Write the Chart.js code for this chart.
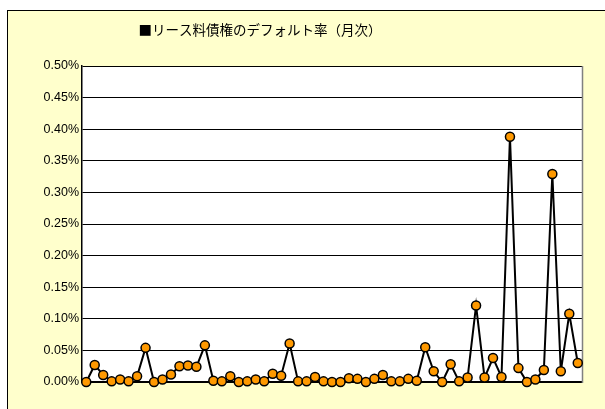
<!DOCTYPE html>
<html>
<head>
<meta charset="utf-8">
<script src="https://cdn.jsdelivr.net/npm/chart.js@4"></script>
<style>
  html, body { margin: 0; padding: 0; background: #fff; }
  #frame {
    position: absolute; left: 7px; top: 10px;
    width: 598px; height: 399px;
    border-left: 1px solid #000; border-top: 1px solid #000;
    background: #FFFFCC;
  }
  canvas { display: block; }
</style>
</head>
<body>
<div id="frame"><canvas id="chart" width="598" height="399"></canvas></div>
<script>
const chartTitle = "■リース料債権のデフォルト率（月次）";

const months = [
  "1", "2", "3", "4", "5", "6", "7", "8", "9", "10",
  "11", "12", "13", "14", "15", "16", "17", "18", "19", "20",
  "21", "22", "23", "24", "25", "26", "27", "28", "29", "30",
  "31", "32", "33", "34", "35", "36", "37", "38", "39", "40",
  "41", "42", "43", "44", "45", "46", "47", "48", "49", "50",
  "51", "52", "53", "54", "55", "56", "57", "58", "59"
];

// default rate, percent
const defaultRate = [
  0.000, 0.027, 0.011, 0.001, 0.004, 0.001, 0.009, 0.054, 0.000, 0.004,
  0.012, 0.025, 0.026, 0.024, 0.058, 0.002, 0.001, 0.009, 0.000, 0.001,
  0.004, 0.001, 0.013, 0.010, 0.061, 0.001, 0.001, 0.008, 0.001, 0.000,
  0.000, 0.006, 0.005, 0.000, 0.005, 0.011, 0.001, 0.001, 0.005, 0.002,
  0.055, 0.017, 0.000, 0.028, 0.001, 0.007, 0.121, 0.007, 0.038, 0.008,
  0.388, 0.022, 0.000, 0.004, 0.019, 0.329, 0.017, 0.108, 0.030
];

const yMin = 0;
const yMax = 0.5;
const yStep = 0.05;

const plotArea = {
  id: "plotArea",
  beforeDraw(chart) {
    const { ctx, chartArea: a } = chart;
    ctx.save();
    ctx.fillStyle = "#fff";
    ctx.fillRect(a.left, a.top, a.right - a.left, a.bottom - a.top);
    ctx.restore();
  },
  beforeDatasetsDraw(chart) {
    const { ctx, chartArea: a } = chart;
    ctx.save();
    ctx.strokeStyle = "#808080";
    ctx.lineWidth = 1.5;
    ctx.beginPath();
    ctx.moveTo(a.right + 0.5, a.top);
    ctx.lineTo(a.right + 0.5, a.bottom + 1);
    ctx.stroke();
    ctx.restore();
  },
  afterDraw(chart) {
    const { ctx } = chart;
    ctx.save();
    ctx.fillStyle = "#000";
    ctx.font = "13.5px 'Noto Sans CJK JP'";
    ctx.textAlign = "center";
    ctx.textBaseline = "middle";
    ctx.fillText(chartTitle, 252, 19);
    ctx.restore();
  }
};

new Chart(document.getElementById("chart"), {
  type: "line",
  data: {
    labels: months,
    datasets: [
      {
        data: defaultRate,
        borderColor: "#000",
        borderWidth: 2,
        pointBackgroundColor: "#FF9900",
        pointBorderColor: "#000",
        pointBorderWidth: 1.5,
        pointRadius: 4.5,
        tension: 0,
        clip: false
      }
    ]
  },
  options: {
    responsive: false,
    animation: false,
    layout: { padding: { top: 55, right: 24, bottom: 28, left: 0 } },
    plugins: {
      legend: { display: false },
      title: { display: false },
      tooltip: { enabled: false }
    },
    scales: {
      x: {
        offset: true,
        afterFit(scale) { scale.height = 0; },
        grid: { display: false },
        border: { display: true, color: "#000", width: 1.5 },
        ticks: { display: false }
      },
      y: {
        min: yMin,
        max: yMax,
        afterFit(scale) { scale.width = 74; },
        grid: { color: "#000", lineWidth: 1, drawTicks: false },
        border: { display: true, color: "#000", width: 1.5 },
        ticks: {
          stepSize: yStep,
          padding: 3,
          color: "#000",
          font: { family: "'Liberation Sans', Arial", size: 12.5 },
          callback: (v) => v.toFixed(2) + "%"
        }
      }
    }
  },
  plugins: [plotArea]
});
</script>
</body>
</html>
